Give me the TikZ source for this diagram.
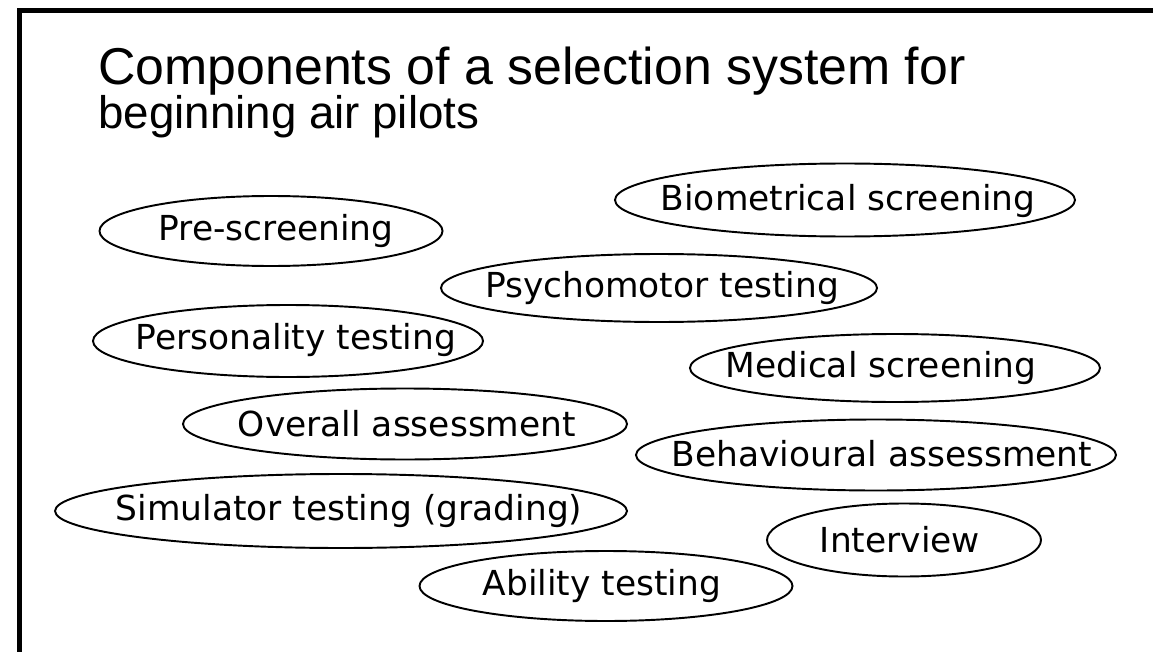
\documentclass[tikz,border=0pt]{standalone}
\usepackage{fontspec}
\setmainfont{Liberation Sans}
\newfontfamily\ovalfont{DejaVu Sans}
\usetikzlibrary{shapes.geometric}

\begin{document}
\begin{tikzpicture}[
    x=0.02cm, y=-0.02cm,
    heading/.style={anchor=base west, inner sep=0pt},
    label/.style={inner sep=0pt, font=\ovalfont\fontsize{19.6}{22}\selectfont},
    ring/.style={draw, line width=1.1pt}
]
\useasboundingbox (0,0) rectangle (1153,652);

% frame (top and left edge only)
\draw[line width=2.6pt] (19.5,652) -- (19.5,10.5) -- (1153,10.5);

\node[heading, font=\fontsize{29.5}{30}\selectfont] (title1) at (98,85) {Components of a selection system for};
\node[heading, font=\fontsize{26}{28}\selectfont] (title2) at (98,129) {beginning air pilots};

% components
\node[label] (pre) at (276,231) {Pre-screening};
\node[label] (bio) at (848,201) {Biometrical screening};
\node[label] (psy) at (662,288) {Psychomotor testing};
\node[label] (pers) at (296,340) {Personality testing};
\node[label] (med) at (881,368) {Medical screening};
\node[label] (overall) at (407,424) {Overall assessment};
\node[label] (behav) at (882,454) {Behavioural assessment};
\node[label] (sim) at (349,511) {Simulator testing (grading)};
\node[label] (inter) at (900,540) {Interview};
\node[label] (abil) at (602,586) {Ability testing};

% outlines
\draw[ring] (271,231) ellipse [x radius=171.5, y radius=35];
\draw[ring] (845,200) ellipse [x radius=230, y radius=36.5];
\draw[ring] (659,288) ellipse [x radius=218, y radius=34];
\draw[ring] (288,341) ellipse [x radius=195, y radius=36];
\draw[ring] (895,368) ellipse [x radius=205, y radius=34];
\draw[ring] (405,424) ellipse [x radius=222, y radius=35.5];
\draw[ring] (876,455) ellipse [x radius=240, y radius=35.5];
\draw[ring] (341,511) ellipse [x radius=286, y radius=37];
\draw[ring] (904,540) ellipse [x radius=137, y radius=36.5];
\draw[ring] (606,586) ellipse [x radius=186.5, y radius=35];
\end{tikzpicture}
\end{document}
